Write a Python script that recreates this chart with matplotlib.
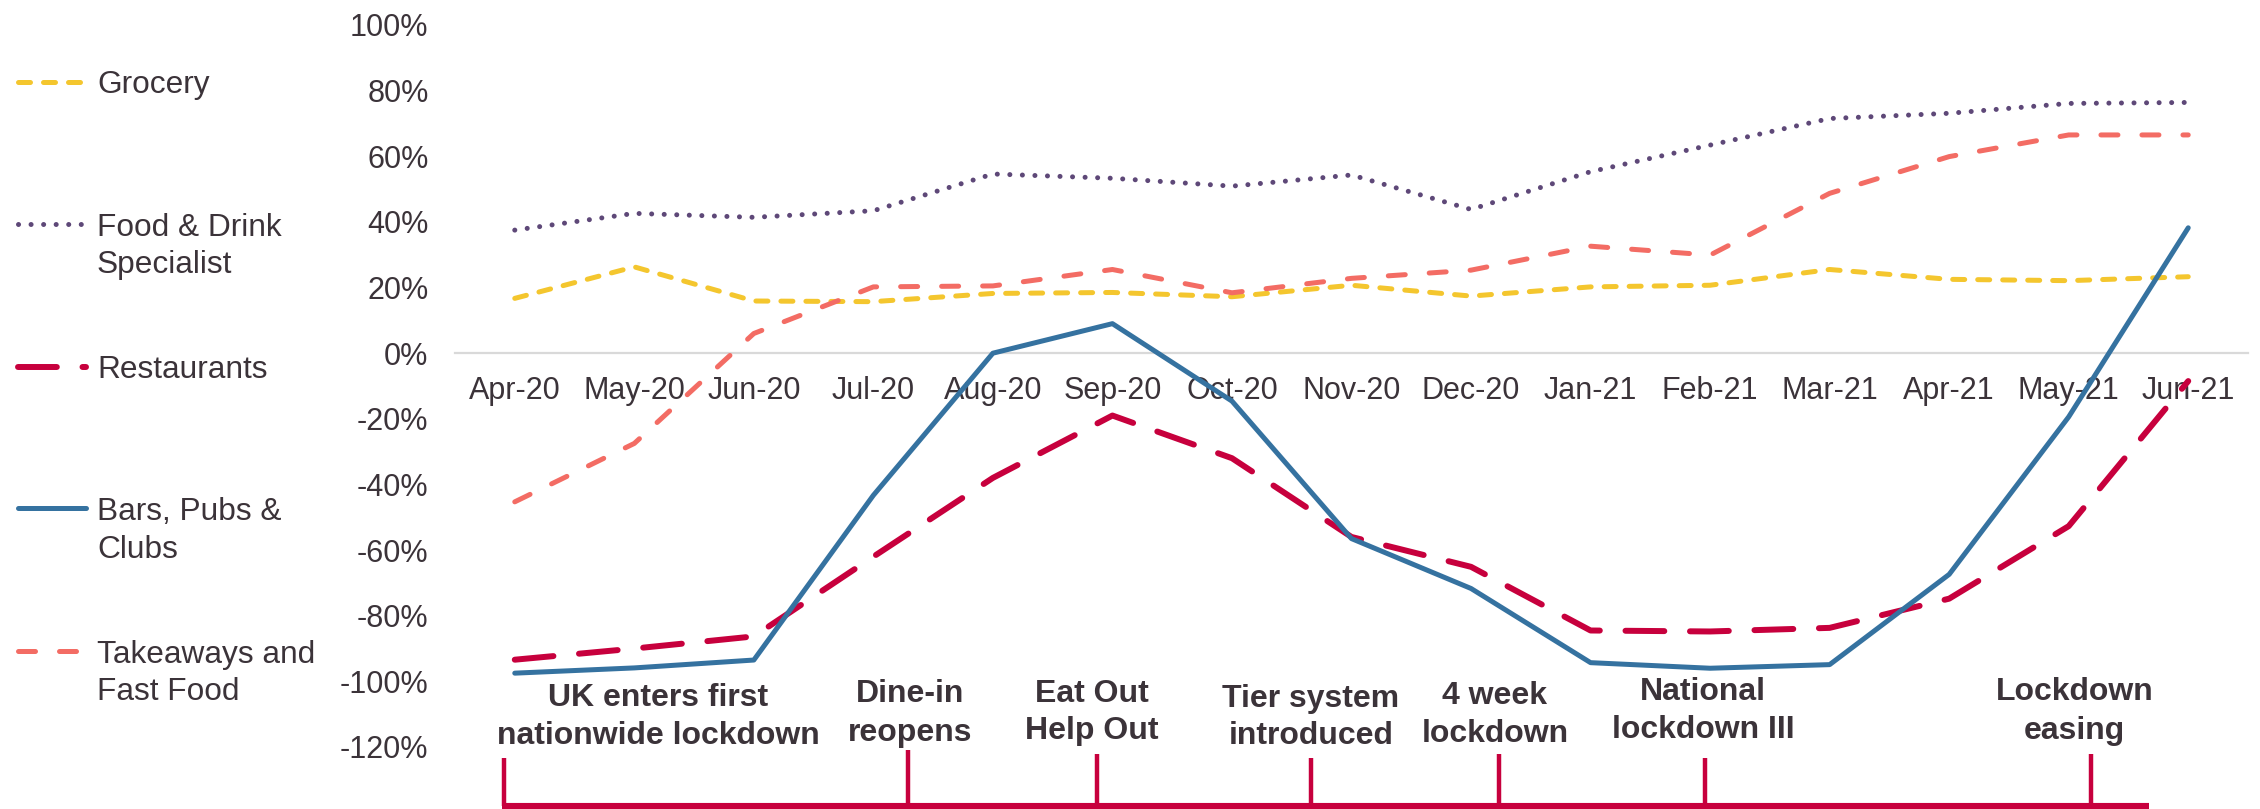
import matplotlib
matplotlib.use("Agg")
import matplotlib.pyplot as plt
from matplotlib.lines import Line2D
from matplotlib.transforms import blended_transform_factory

plt.rcParams["font.family"] = ["Liberation Sans", "DejaVu Sans"]

# data (% change vs 2019)
months = ["Apr-20", "May-20", "Jun-20", "Jul-20", "Aug-20", "Sep-20", "Oct-20", "Nov-20",
          "Dec-20", "Jan-21", "Feb-21", "Mar-21", "Apr-21", "May-21", "Jun-21"]
grocery = [16.7, 26.3, 15.9, 15.7, 18.2, 18.5, 17.2, 20.7, 17.4, 20.2, 20.7, 25.5, 22.5, 22.1, 23.3]
food_drink = [37.5, 42.6, 41.4, 43.4, 54.6, 53.3, 50.9, 54.3, 43.8, 55.3, 63.4, 71.5, 73.1, 76.1, 76.4]
restaurants = [-93.4, -90.0, -86.3, -62.0, -38.0, -19.0, -32.0, -56.0, -65.1, -84.5, -84.8, -83.7,
               -74.8, -52.7, -8.5]
bars = [-97.5, -95.9, -93.5, -43.3, 0.0, 9.0, -14.6, -56.5, -71.7, -94.3, -96.0, -94.9, -67.4,
        -19.4, 38.2]
takeaways = [-45.3, -27.5, 6.0, 20.2, 20.5, 25.5, 18.4, 22.8, 25.3, 32.6, 29.9, 48.7, 59.9, 66.5, 66.5]

series_names = ["Grocery", "Food & Drink\nSpecialist", "Restaurants", "Bars, Pubs &\nClubs",
                "Takeaways and\nFast Food"]

event_labels = ["UK enters first\nnationwide lockdown", "Dine-in\nreopens", "Eat Out\nHelp Out",
                "Tier system\nintroduced", "4 week\nlockdown", "National\nlockdown III",
                "Lockdown\neasing"]
event_label_x = [1.20, 3.31, 4.83, 6.66, 8.20, 9.94, 13.05]
event_tick_x = [-0.09, 3.29, 4.87, 6.66, 8.23, 9.96, 13.19]

# layout (figure pixels)
W, H = 2260, 809
text_color = "#3b3339"
styles = [
    dict(color="#f4c62e", lw=3.6, ls=(0, (2.4, 2.6))),
    dict(color="#5e4878", lw=3.6, ls=(0, (0.01, 2.5))),
    dict(color="#c7003d", lw=4.3, ls=(0, (6.5, 4.3))),
    dict(color="#3572a0", lw=3.6, ls="-"),
    dict(color="#f36c64", lw=3.6, ls=(0, (3.4, 4.8))),
]
legend_y = [82, 224, 367, 508, 651]
legend_gap = 38
event_label_y = [695, 691, 690, 695, 692, 689, 689]
event_gap = 38
event_tick_top = [758, 750, 754, 758, 754, 758, 754]


def fy(py):
    return 1 - py / H


fig = plt.figure(figsize=(W / 100, H / 100), dpi=100)
ax = fig.add_axes([455 / W, fy(747), (2248 - 455) / W, (747 - 25) / H])

x = list(range(len(months)))
values = [grocery, food_drink, restaurants, bars, takeaways]
draw_order = [0, 1, 4, 2, 3]
for i in draw_order:
    st = styles[i]
    ax.plot(x, values[i], color=st["color"], lw=st["lw"], linestyle=st["ls"],
            dash_capstyle="round", solid_capstyle="round", solid_joinstyle="round", zorder=3)

ax.set_xlim(-0.5, len(months) - 0.5)
ax.set_ylim(-120, 100)
ax.set_yticks(range(-120, 101, 20))
ax.set_yticklabels([f"{v}%" for v in range(-120, 101, 20)])
ax.set_xticks(x)
ax.set_xticklabels(months)
for side in ["top", "right", "left"]:
    ax.spines[side].set_visible(False)
ax.spines["bottom"].set_position(("data", 0))
ax.spines["bottom"].set_color("#d9d9d9")
ax.spines["bottom"].set_linewidth(1.6)
ax.tick_params(axis="both", length=0, labelsize=22, labelcolor=text_color)
ax.tick_params(axis="x", pad=16.5)
ax.tick_params(axis="y", pad=19)

# legend drawn by hand so the sample sits on the first text line
for name, st, py in zip(series_names, styles, legend_y):
    fig.add_artist(Line2D([18 / W, 86 / W], [fy(py), fy(py)], color=st["color"], lw=st["lw"],
                          linestyle=st["ls"], dash_capstyle="round", solid_capstyle="round"))
    for k, line in enumerate(name.split("\n")):
        fig.text(97 / W, fy(py + k * legend_gap), line, fontsize=22.8, color=text_color,
                 ha="left", va="center_baseline")

# event timeline under the chart
trans = blended_transform_factory(ax.transData, fig.transFigure)
tl_color = "#c7003d"
tl_y = fy(806)
ax.plot([min(event_tick_x) - 0.02, 13.67], [tl_y, tl_y], color=tl_color, lw=4.4,
        solid_capstyle="butt", transform=trans, clip_on=False)
for label, lx, tx, ly, top in zip(event_labels, event_label_x, event_tick_x, event_label_y,
                                  event_tick_top):
    ax.plot([tx, tx], [fy(top), tl_y], color=tl_color, lw=3.2, solid_capstyle="butt",
            transform=trans, clip_on=False)
    for k, line in enumerate(label.split("\n")):
        ax.text(lx, fy(ly + k * event_gap), line, transform=trans, ha="center",
                va="center_baseline", fontsize=23, fontweight="bold", color=text_color)

fig.savefig("out.png", dpi=100, facecolor="white")
